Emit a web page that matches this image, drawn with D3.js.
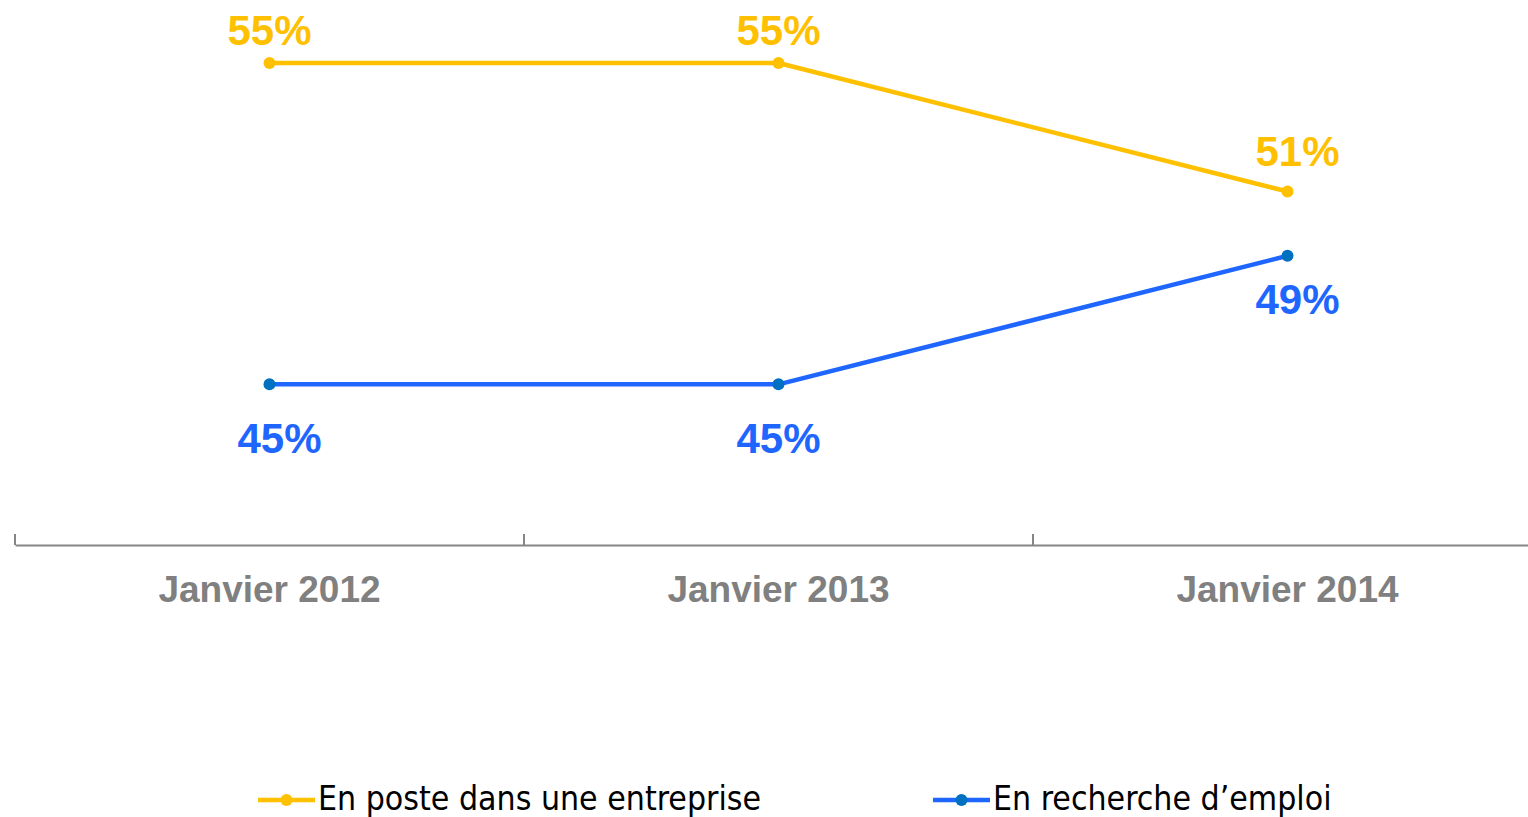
<!doctype html>
<html>
<head>
<meta charset="UTF-8">
<title>En poste / En recherche d'emploi</title>
<script src="https://d3js.org/d3.v7.min.js"></script>
<style>
    body { margin: 0; background: #fff; }
    svg { display: block; }
</style>
</head>
<body>
<svg id="chart" width="1528" height="817"></svg>
<script>
// data
var periods = ["Janvier 2012", "Janvier 2013", "Janvier 2014"];
var enPoste = [55, 55, 51];
var enRecherche = [45, 45, 49];
var seriesNames = ["En poste dans une entreprise", "En recherche d\u2019emploi"];

var W = 1528, H = 817;
var svg = d3.select("#chart");

var x = d3.scaleBand().domain(periods).range([15, 1542]);
var y = d3.scaleLinear().domain([40, 55]).range([545, 63]);

var series = [
    { name: seriesNames[0], values: enPoste, line: "#FFC000", dot: "#FFC000", label: "#FFC000", above: true },
    { name: seriesNames[1], values: enRecherche, line: "#1F66FF", dot: "#0070C0", label: "#1F66FF", above: false }
];

// axis
var axis = d3.axisBottom(x).tickSize(0).tickPadding(0).tickFormat("");
var gx = svg.append("g").attr("transform", "translate(0,545)").call(axis);
gx.select(".domain").attr("stroke", "#868686").attr("stroke-width", 2);
gx.selectAll(".tick").remove();

// tick marks at band edges
svg.append("g").selectAll("line")
    .data(periods)
    .enter().append("line")
    .attr("x1", function (d) { return x(d); })
    .attr("x2", function (d) { return x(d); })
    .attr("y1", 545).attr("y2", 534)
    .attr("stroke", "#868686").attr("stroke-width", 2);

svg.append("g").selectAll("text")
    .data(periods)
    .enter().append("text")
    .attr("x", function (d) { return x(d) + x.bandwidth() / 2; })
    .attr("y", 602)
    .attr("text-anchor", "middle")
    .attr("font-family", "Liberation Sans, Arial, sans-serif")
    .attr("font-weight", "bold")
    .attr("font-size", 37)
    .attr("fill", "#808080")
    .text(function (d) { return d; });

var cx = function (d, i) { return x(periods[i]) + x.bandwidth() / 2; };

var line = d3.line()
    .x(function (d, i) { return cx(d, i); })
    .y(function (d) { return y(d); });

series.forEach(function (s) {
    var g = svg.append("g");
    g.append("path")
        .datum(s.values)
        .attr("d", line)
        .attr("fill", "none")
        .attr("stroke", s.line)
        .attr("stroke-width", 4.5)
        .attr("stroke-linejoin", "round");

    g.selectAll("circle")
        .data(s.values)
        .enter().append("circle")
        .attr("cx", cx)
        .attr("cy", function (d) { return y(d); })
        .attr("r", 6)
        .attr("fill", s.dot);

    g.selectAll("text")
        .data(s.values)
        .enter().append("text")
        .attr("x", function (d, i) { return cx(d, i) + (i == 2 || (!s.above && i == 0) ? 10 : 0); })
        .attr("y", function (d, i) {
            if (s.above) return y(d) - (i == 2 ? 26 : 18);
            return y(d) + (i == 2 ? 58 : 69);
        })
        .attr("text-anchor", "middle")
        .attr("font-family", "Liberation Sans, Arial, sans-serif")
        .attr("font-weight", "bold")
        .attr("font-size", 42)
        .attr("fill", s.label)
        .text(function (d) { return d + "%"; });
});

// legend
var legendX = [258, 933];
var leg = svg.append("g").selectAll("g")
    .data(series)
    .enter().append("g")
    .attr("transform", function (d, i) { return "translate(" + legendX[i] + ",800)"; });

leg.append("line")
    .attr("x1", 0).attr("x2", 57)
    .attr("y1", 0).attr("y2", 0)
    .attr("stroke", function (d) { return d.line; })
    .attr("stroke-width", 4.5);
leg.append("circle")
    .attr("cx", 28.5).attr("cy", 0).attr("r", 6)
    .attr("fill", function (d) { return d.dot; });
leg.append("text")
    .attr("x", 60)
    .attr("y", 10)
    .attr("font-family", "Liberation Sans Narrow, DejaVu Sans Condensed, Open Sans, sans-serif")
    .attr("font-size", 33.5)
    .attr("fill", "#000")
    .text(function (d) { return d.name; });
</script>
</body>
</html>
